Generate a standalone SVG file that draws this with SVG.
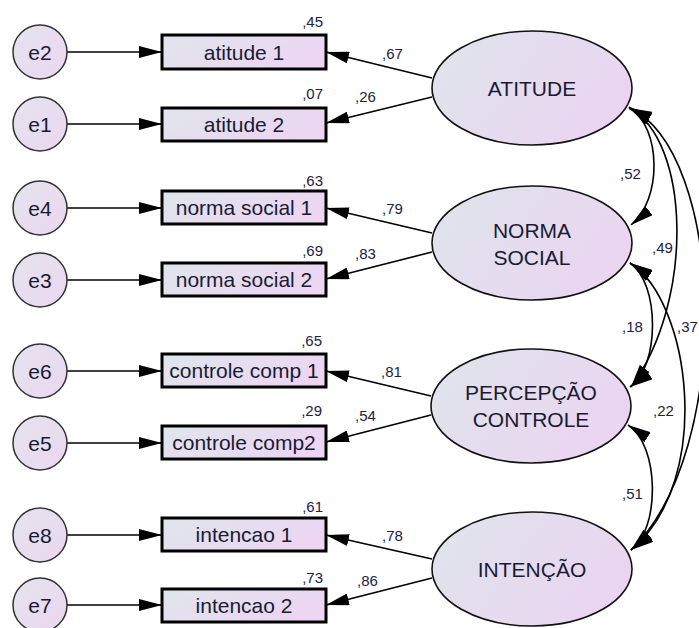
<svg xmlns="http://www.w3.org/2000/svg" width="699" height="628" viewBox="0 0 699 628">
  <defs>
    <linearGradient id="gBox" x1="0" y1="0" x2="1" y2="0.4">
      <stop offset="0" stop-color="#dfe6ec"/>
      <stop offset="1" stop-color="#ecd6f2"/>
    </linearGradient>
    <linearGradient id="gEll" x1="0" y1="0.2" x2="1" y2="0.6">
      <stop offset="0" stop-color="#dfe4ec"/>
      <stop offset="1" stop-color="#ebd4f1"/>
    </linearGradient>
    <linearGradient id="gErr" x1="0" y1="0" x2="1" y2="1">
      <stop offset="0" stop-color="#e4e4ee"/>
      <stop offset="1" stop-color="#ecd6f0"/>
    </linearGradient>
    <marker id="arr" viewBox="0 0 23 12" refX="23" refY="6" markerWidth="23" markerHeight="12" markerUnits="userSpaceOnUse" orient="auto-start-reverse">
      <path d="M0,0 L23,6 L0,12 z" fill="#000"/>
    </marker>
    <style>
      .err { fill: url(#gErr); stroke: #333; stroke-width: 1.5; }
      .box { fill: url(#gBox); stroke: #000; stroke-width: 3; }
      .lat { fill: url(#gEll); stroke: #111; stroke-width: 1.6; }
      .lbl { font-family: "Liberation Sans", Arial, sans-serif; fill: #1a1b33; text-anchor: middle; }
      .el { font-size: 21px; }
      .bx { font-size: 21px; }
      .lt { font-size: 21px; }
      .num { font-family: "Liberation Sans", Arial, sans-serif; font-size: 15px; fill: #1d2244; }
      .ne { text-anchor: end; }
      .ln { fill: none; stroke: #000; stroke-width: 1.6; marker-end: url(#arr); }
      .cov { fill: none; stroke: #000; stroke-width: 1.6; marker-start: url(#arr); marker-end: url(#arr); }
    </style>
  </defs>

  <!-- connectors -->
  <g id="connectors">
    <!-- error terms to indicators -->
    <path class="ln" d="M67,52 L162,52"/>
    <path class="ln" d="M67,124 L162,124"/>
    <path class="ln" d="M67,208 L162,208"/>
    <path class="ln" d="M67,280 L162,280"/>
    <path class="ln" d="M67,371 L162,371"/>
    <path class="ln" d="M67,443 L162,443"/>
    <path class="ln" d="M67,535 L162,535"/>
    <path class="ln" d="M67,605 L162,605"/>
    <!-- loadings -->
    <path class="ln" d="M432,78 L326,52"/>
    <path class="ln" d="M432,97 L326,123"/>
    <path class="ln" d="M432,233 L326,208"/>
    <path class="ln" d="M432,252 L326,279"/>
    <path class="ln" d="M431,396 L326,371"/>
    <path class="ln" d="M431,415 L326,442"/>
    <path class="ln" d="M432,559 L326,535"/>
    <path class="ln" d="M432,578 L326,605"/>
    <!-- covariances -->
    <path class="cov" d="M629,107 C662,128 662,200 631,225"/>
    <path class="cov" d="M629,108 C690,140 695,300 631,387"/>
    <path class="cov" d="M629,108 C725,150 735,450 631,550"/>
    <path class="cov" d="M630,263 C660,283 660,367 630,387"/>
    <path class="cov" d="M630,263 C690,300 715,480 631,550"/>
    <path class="cov" d="M628,425 C660,445 660,530 631,550"/>
  </g>

  <!-- error terms -->
  <g id="e2"><circle class="err" cx="40" cy="52" r="27"/><text class="lbl el" x="40" y="59.5">e2</text></g>
  <g id="e1"><circle class="err" cx="40" cy="124" r="27"/><text class="lbl el" x="40" y="131.5">e1</text></g>
  <g id="e4"><circle class="err" cx="40" cy="208" r="27"/><text class="lbl el" x="40" y="215.5">e4</text></g>
  <g id="e3"><circle class="err" cx="40" cy="280" r="27"/><text class="lbl el" x="40" y="287.5">e3</text></g>
  <g id="e6"><circle class="err" cx="40" cy="371" r="27"/><text class="lbl el" x="40" y="378.5">e6</text></g>
  <g id="e5"><circle class="err" cx="40" cy="443" r="27"/><text class="lbl el" x="40" y="450.5">e5</text></g>
  <g id="e8"><circle class="err" cx="40" cy="535" r="27"/><text class="lbl el" x="40" y="542.5">e8</text></g>
  <g id="e7"><circle class="err" cx="40" cy="605" r="27"/><text class="lbl el" x="40" y="612.5">e7</text></g>

  <!-- indicators -->
  <g id="atitude1"><rect class="box" x="162" y="35" width="164" height="34"/><text class="lbl bx" x="244" y="59.5">atitude 1</text><text class="num ne" x="323" y="27">,45</text></g>
  <g id="atitude2"><rect class="box" x="162" y="108" width="164" height="33"/><text class="lbl bx" x="244" y="132">atitude 2</text><text class="num ne" x="323" y="99">,07</text></g>
  <g id="normasocial1"><rect class="box" x="162" y="191" width="164" height="33"/><text class="lbl bx" x="244" y="215">norma social 1</text><text class="num ne" x="323" y="186">,63</text></g>
  <g id="normasocial2"><rect class="box" x="162" y="263" width="164" height="33"/><text class="lbl bx" x="244" y="287">norma social 2</text><text class="num ne" x="323" y="256">,69</text></g>
  <g id="controlecomp1"><rect class="box" x="162" y="354" width="164" height="33"/><text class="lbl bx" x="244" y="378">controle comp 1</text><text class="num ne" x="322" y="346">,65</text></g>
  <g id="controlecomp2"><rect class="box" x="162" y="426" width="164" height="33"/><text class="lbl bx" x="244" y="450">controle comp2</text><text class="num ne" x="322" y="416">,29</text></g>
  <g id="intencao1"><rect class="box" x="162" y="518" width="164" height="33"/><text class="lbl bx" x="244" y="542">intencao 1</text><text class="num ne" x="323" y="512">,61</text></g>
  <g id="intencao2"><rect class="box" x="162" y="589" width="164" height="33"/><text class="lbl bx" x="244" y="613">intencao 2</text><text class="num ne" x="323" y="583">,73</text></g>

  <!-- latent constructs -->
  <g id="ATITUDE"><ellipse class="lat" cx="532" cy="88" rx="100" ry="57"/><text class="lbl lt" x="532" y="96">ATITUDE</text></g>
  <g id="NORMA_SOCIAL"><ellipse class="lat" cx="532" cy="243" rx="100" ry="57"/><text class="lbl lt" x="532" y="238">NORMA</text><text class="lbl lt" x="532" y="265">SOCIAL</text></g>
  <g id="PERCEPCAO_CONTROLE"><ellipse class="lat" cx="531" cy="406" rx="100" ry="57"/><text class="lbl lt" x="531" y="400">PERCEPÇÃO</text><text class="lbl lt" x="531" y="427">CONTROLE</text></g>
  <g id="INTENCAO"><ellipse class="lat" cx="532" cy="569" rx="100" ry="57"/><text class="lbl lt" x="532" y="577">INTENÇÃO</text></g>

  <!-- coefficient labels -->
  <g id="coefficients">
    <text class="num" x="382" y="59">,67</text>
    <text class="num" x="355" y="102">,26</text>
    <text class="num" x="382" y="214">,79</text>
    <text class="num" x="355" y="259">,83</text>
    <text class="num" x="381" y="377">,81</text>
    <text class="num" x="355" y="421">,54</text>
    <text class="num" x="382" y="541">,78</text>
    <text class="num" x="357" y="586">,86</text>
    <text class="num" x="620" y="179">,52</text>
    <text class="num" x="652" y="253">,49</text>
    <text class="num" x="622" y="332">,18</text>
    <text class="num" x="677" y="332">,37</text>
    <text class="num" x="653" y="416">,22</text>
    <text class="num" x="622" y="499">,51</text>
  </g>
</svg>
